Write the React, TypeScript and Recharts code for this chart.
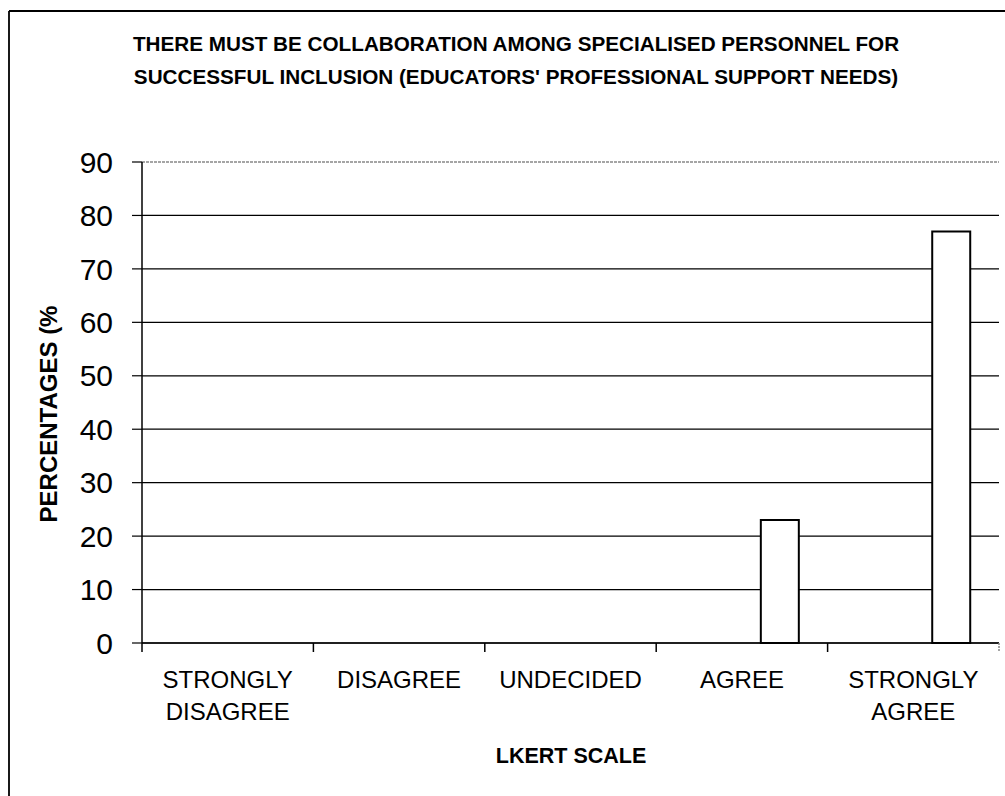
import React from 'react';
import { BarChart, Bar, XAxis, YAxis, CartesianGrid, ReferenceLine } from 'recharts';

const categories = ['STRONGLY DISAGREE', 'DISAGREE', 'UNDECIDED', 'AGREE', 'STRONGLY AGREE'];
const categoryLines = [['STRONGLY', 'DISAGREE'], ['DISAGREE'], ['UNDECIDED'], ['AGREE'], ['STRONGLY', 'AGREE']];
const placeholderSeriesA: (number | null)[] = [null, null, null, null, null];
const placeholderSeriesB: (number | null)[] = [null, null, null, null, null];
const percentages = [0, 0, 0, 23, 77];
const yTicks = [0, 10, 20, 30, 40, 50, 60, 70, 80, 90];
const yMax = 90;
const titleLines = [
  'THERE MUST BE COLLABORATION AMONG SPECIALISED PERSONNEL FOR',
  "SUCCESSFUL INCLUSION (EDUCATORS' PROFESSIONAL SUPPORT NEEDS)",
];
const xTitle = 'LKERT SCALE';
const yTitle = 'PERCENTAGES (%';

const data = categories.map((c, i) => ({
  category: c,
  a: placeholderSeriesA[i],
  b: placeholderSeriesB[i],
  pct: percentages[i],
}));

const W = 1005;
const H = 796;
const FONT = '"Liberation Sans", Arial, sans-serif';
const margin = { top: 162, right: 6, bottom: 0, left: 0 };
const yAxisWidth = 142;
const plotWidth = W - margin.left - margin.right - yAxisWidth;

const XTick = (props: any) => {
  const { x, y, payload } = props;
  const idx = categories.indexOf(payload.value);
  const half = typeof payload.offset === 'number' && payload.offset > 0 ? payload.offset : plotWidth / categories.length / 2;
  const lines = categoryLines[idx] || [];
  return (
    <g>
      <line x1={x - half} x2={x - half} y1={y} y2={y + 9} stroke="#000" strokeWidth={1.5} />
      {idx === categories.length - 1 && (
        <line x1={x + half} x2={x + half} y1={y} y2={y + 9} stroke="#888" strokeWidth={1.5} strokeDasharray="2 1" />
      )}
      {lines.map((l, i) => (
        <text key={i} x={x} y={y + 44.5 + i * 32} textAnchor="middle" fontSize={24} fontFamily={FONT} fill="#000">
          {l}
        </text>
      ))}
    </g>
  );
};

export default function App() {
  return (
    <div style={{ position: 'fixed', left: 0, top: 0, width: W, height: H, background: '#fff', overflow: 'hidden' }}>
      <BarChart
        width={W}
        height={H}
        data={data}
        margin={margin}
        barGap={0}
        barCategoryGap="16.7%"
      >
        <CartesianGrid yAxisId="left" vertical={false} stroke="#000" strokeWidth={1.2} fill="#fff" />
        <ReferenceLine yAxisId="left" y={yMax} stroke="#fff" strokeWidth={3} />
        <ReferenceLine yAxisId="left" y={yMax} stroke="#888" strokeWidth={1.5} strokeDasharray="3 1" />
        <XAxis
          dataKey="category"
          height={153}
          interval={0}
          tickSize={0}
          tickMargin={0}
          tickLine={false}
          axisLine={{ stroke: '#000', strokeWidth: 1.5 }}
          tick={<XTick />}
        />
        <YAxis
          yAxisId="left"
          width={yAxisWidth}
          domain={[0, yMax]}
          ticks={yTicks}
          interval={0}
          tickSize={10}
          tickMargin={19}
          axisLine={{ stroke: '#000', strokeWidth: 1.5 }}
          tickLine={{ stroke: '#000', strokeWidth: 1.2 }}
          tick={{ fontSize: 30, fill: '#000', fontFamily: FONT }}
        />
        <YAxis
          yAxisId="right"
          orientation="right"
          width={0}
          domain={[0, yMax]}
          tick={false}
          tickLine={false}
          axisLine={{ stroke: '#888', strokeWidth: 1.5, strokeDasharray: '2 1' }}
        />
        <Bar yAxisId="left" dataKey="a" fill="#fff" stroke="#000" isAnimationActive={false} />
        <Bar yAxisId="left" dataKey="b" fill="#fff" stroke="#000" isAnimationActive={false} />
        <Bar yAxisId="left" dataKey="pct" fill="#fff" stroke="#000" strokeWidth={2} isAnimationActive={false} />
      </BarChart>
      <svg width={W} height={H} style={{ position: 'absolute', left: 0, top: 0, pointerEvents: 'none' }}>
        <line x1={9} y1={11} x2={9} y2={H} stroke="#000" strokeWidth={1.8} />
        <line x1={9} y1={11} x2={W} y2={11} stroke="#000" strokeWidth={1.8} />
        {titleLines.map((t, i) => (
          <text key={i} x={516} y={50.5 + i * 33} textAnchor="middle" fontSize={20.7} fontWeight="bold" fontFamily={FONT} fill="#000">
            {t}
          </text>
        ))}
        <text
          x={49}
          y={414}
          transform="rotate(-90 49 414)"
          textAnchor="middle"
          dy="0.35em"
          fontSize={24}
          fontWeight="bold"
          fontFamily={FONT}
          fill="#000"
        >
          {yTitle}
        </text>
        <text x={571} y={763} textAnchor="middle" fontSize={21.5} fontWeight="bold" fontFamily={FONT} fill="#000">
          {xTitle}
        </text>
      </svg>
    </div>
  );
}
